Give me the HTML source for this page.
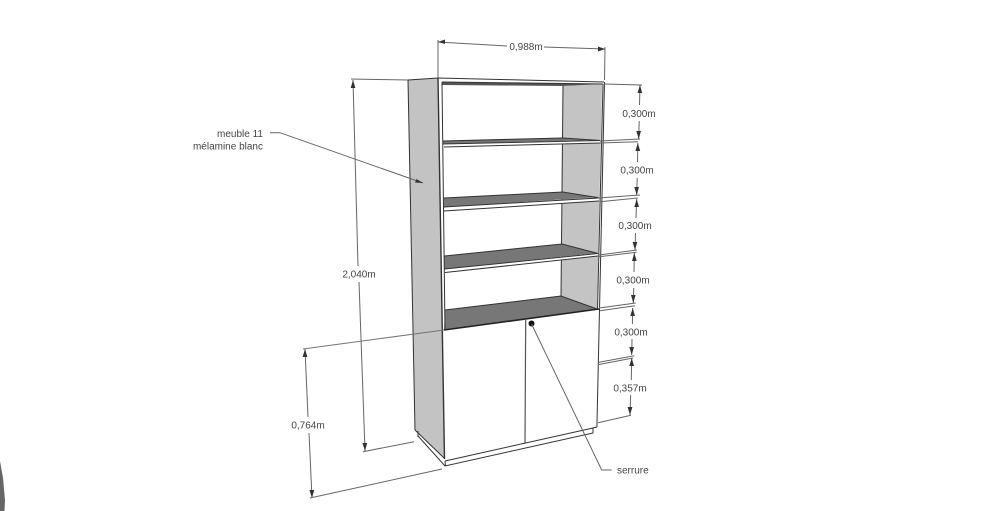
<!DOCTYPE html>
<html><head><meta charset="utf-8"><style>
html,body{margin:0;padding:0;background:#fff;width:1000px;height:511px;overflow:hidden}
svg{display:block}
text{font-family:"Liberation Sans",sans-serif;font-size:10px;fill:#444}
.d{stroke:#666;stroke-width:1;fill:none}
.k{stroke:#333;stroke-width:1;fill:none}
.a{fill:#333;stroke:none}
#g{filter:blur(0.35px)}
</style></head><body>
<svg width="1000" height="511" viewBox="0 0 1000 511" xmlns="http://www.w3.org/2000/svg">
<rect width="1000" height="511" fill="#fff"/>
<g id="g">
<polygon points="0,461 3,478 5,500 4.5,511 0,511" fill="#666"/>

<!-- left side panel -->
<polygon points="408,80 438,78 444,458 415,430" fill="#c3c3c3"/>
<polygon points="415,430 444,458 445,466 418,437" fill="#fff"/>
<polyline class="k" points="408,80 438,78 604,82"/>
<line class="k" x1="408" y1="80" x2="415" y2="430"/>
<line class="k" x1="415" y1="430" x2="444" y2="458"/>
<polyline class="k" points="418,436 445,466 593,433 593,428"/>
<line class="k" x1="418" y1="431" x2="418" y2="437"/>
<line x1="438" y1="78" x2="444.5" y2="459" stroke="#333" stroke-width="1.4"/>
<line x1="445" y1="461" x2="445.5" y2="466" stroke="#333"/>

<!-- right back panel -->
<polygon points="563,86 602,84 597,309 561,296" fill="#c4c4c4"/>
<!-- top underside -->
<polygon points="442,82 603,84 563,86 442,85" fill="#555"/>
<line class="k" x1="563" y1="86" x2="561" y2="296"/>

<!-- shelves -->
<polygon points="443,141 563,138 600,140 443,144" fill="#777"/>
<polygon points="443,144 600,140 600,143 443,147" fill="#fff"/>
<polyline class="k" points="443,141 563,138 600,140.5 443,144"/>
<line class="k" x1="444" y1="147" x2="600" y2="143"/>

<polygon points="444,198 563,192 599,197 444,207" fill="#777"/>
<polygon points="444,207 599,198 599,201 444,211" fill="#fff"/>
<polyline class="k" points="444,198 563,192 599,198 444,207"/>
<line class="k" x1="444" y1="211" x2="599" y2="201"/>

<polygon points="444.5,256 562,244 598,253 444.5,269" fill="#777"/>
<polygon points="444.5,269 598,253 598,256 444.5,272.5" fill="#fff"/>
<polyline class="k" points="444.5,256 562,244 598,253.5 444.5,269"/>
<line class="k" x1="445" y1="272.5" x2="598" y2="256"/>

<polygon points="445,310 561,296 597,309 444,330" fill="#777"/>
<polyline class="k" points="445,310 561,296 597,309"/>
<line x1="444" y1="330" x2="599" y2="309" stroke="#222" stroke-width="1.6"/>

<!-- inner opening -->
<polyline class="k" points="442,82 603,84"/>
<line class="k" x1="442" y1="82" x2="445" y2="330"/>
<line class="k" x1="603" y1="84" x2="597.5" y2="309"/>
<line class="k" x1="604.5" y1="82" x2="597" y2="423"/>
<line class="k" x1="597" y1="423" x2="597" y2="427"/>

<!-- doors -->
<line x1="525.7" y1="320" x2="525" y2="443" stroke="#555" stroke-width="1.2"/>
<polyline class="k" points="445,461 593,428 597,427"/>
<circle cx="531.5" cy="323.5" r="3" fill="#111"/>

<!-- dim 0,988 -->
<line class="d" x1="438" y1="40" x2="438" y2="78"/>
<line class="d" x1="605" y1="47" x2="604.5" y2="80"/>
<line class="d" x1="438" y1="42" x2="507" y2="46"/>
<line class="d" x1="544" y1="47" x2="605" y2="49"/>
<polygon class="a" points="438,42 445,39.5 445,44"/>
<polygon class="a" points="605,49 598,46.5 598,51.5"/>
<text x="526" y="50" text-anchor="middle">0,988m</text>

<!-- right ext lines -->
<line class="d" x1="604" y1="84" x2="642" y2="85"/>
<line class="d" x1="600" y1="141" x2="640" y2="139"/>
<line class="d" x1="600" y1="143" x2="638" y2="141.7"/>
<line class="d" x1="599" y1="198" x2="640" y2="195"/>
<line class="d" x1="600" y1="201.7" x2="638" y2="198"/>
<line class="d" x1="599" y1="255" x2="637" y2="250"/>
<line class="d" x1="599" y1="256.7" x2="636.7" y2="252.3"/>
<line class="d" x1="599" y1="308" x2="635.7" y2="303"/>
<line class="d" x1="600" y1="310.7" x2="635" y2="305.7"/>
<line class="d" x1="599" y1="362.3" x2="634.3" y2="355.7"/>
<line class="d" x1="599" y1="364.5" x2="633" y2="358"/>
<line class="d" x1="598" y1="422.7" x2="631" y2="415.3"/>

<!-- vertical dims right -->
<line class="d" x1="640" y1="85" x2="639.5" y2="105"/>
<line class="d" x1="639.2" y1="121" x2="638.7" y2="139"/>
<polygon class="a" points="640,85 637.5,93 642.2,93"/>
<polygon class="a" points="638.7,139 636.3,131 641,131"/>
<text x="639" y="117" text-anchor="middle">0,300m</text>

<line class="d" x1="637.8" y1="143" x2="637.5" y2="162"/>
<line class="d" x1="637.2" y1="178" x2="636.7" y2="195"/>
<polygon class="a" points="637.8,143 635.4,151 640.2,151"/>
<polygon class="a" points="636.7,195 634.3,187 639,187"/>
<text x="637" y="173.5" text-anchor="middle">0,300m</text>

<line class="d" x1="636.7" y1="199" x2="636" y2="218"/>
<line class="d" x1="635.5" y1="233" x2="635" y2="250"/>
<polygon class="a" points="636.7,199 634.3,207 639,207"/>
<polygon class="a" points="635,250 632.6,242 637.3,242"/>
<text x="635" y="229" text-anchor="middle">0,300m</text>

<line class="d" x1="634.3" y1="253" x2="634" y2="272"/>
<line class="d" x1="633.7" y1="288" x2="633.3" y2="303"/>
<polygon class="a" points="634.3,253 632,261 636.7,261"/>
<polygon class="a" points="633.3,303 631,295 635.6,295"/>
<text x="633" y="283.5" text-anchor="middle">0,300m</text>

<line class="d" x1="632.7" y1="308" x2="632.4" y2="324"/>
<line class="d" x1="632" y1="339" x2="631.7" y2="355"/>
<polygon class="a" points="632.7,308 630.3,316 635,316"/>
<polygon class="a" points="631.7,355 629.3,347 634,347"/>
<text x="631" y="335.5" text-anchor="middle">0,300m</text>

<line class="d" x1="631.7" y1="358" x2="631.3" y2="380"/>
<line class="d" x1="630.6" y1="395" x2="630" y2="415"/>
<polygon class="a" points="631.7,358 629.3,366 634,366"/>
<polygon class="a" points="630,415 627.6,407 632.4,407"/>
<text x="630" y="391.5" text-anchor="middle">0,357m</text>

<!-- dim 2,040 -->
<line class="d" x1="351" y1="79" x2="408" y2="80"/>
<line class="d" x1="353" y1="80" x2="358" y2="266"/>
<line class="d" x1="359" y1="282" x2="365" y2="451"/>
<polygon class="a" points="353,80 350.7,88 355.4,88"/>
<polygon class="a" points="365,451 362.4,443 367.2,443"/>
<line class="d" x1="363" y1="451.7" x2="414" y2="441.7"/>
<text x="359" y="277.5" text-anchor="middle">2,040m</text>

<!-- dim 0,764 -->
<line x1="303" y1="349" x2="444" y2="330" stroke="#777" stroke-width="1"/>
<line class="d" x1="305" y1="349" x2="308" y2="417"/>
<line class="d" x1="309" y1="433" x2="312" y2="498"/>
<polygon class="a" points="305,349 302.6,357 307.4,357"/>
<polygon class="a" points="312,498 309.4,490 314.2,490"/>
<line class="d" x1="310" y1="498" x2="442" y2="469"/>
<text x="308" y="428.5" text-anchor="middle">0,764m</text>

<!-- leaders -->
<polyline class="d" points="270,132.7 280,132.7 423,183"/>
<polygon class="a" points="423,183 415,182.5 416.5,179"/>
<text x="263" y="137" text-anchor="end">meuble 11</text>
<text x="263" y="149.5" text-anchor="end">mélamine blanc</text>
<polyline class="d" points="531.5,324 601.7,470 611.7,470"/>
<text x="617" y="473.5">serrure</text>
</g>
</svg>
</body></html>
